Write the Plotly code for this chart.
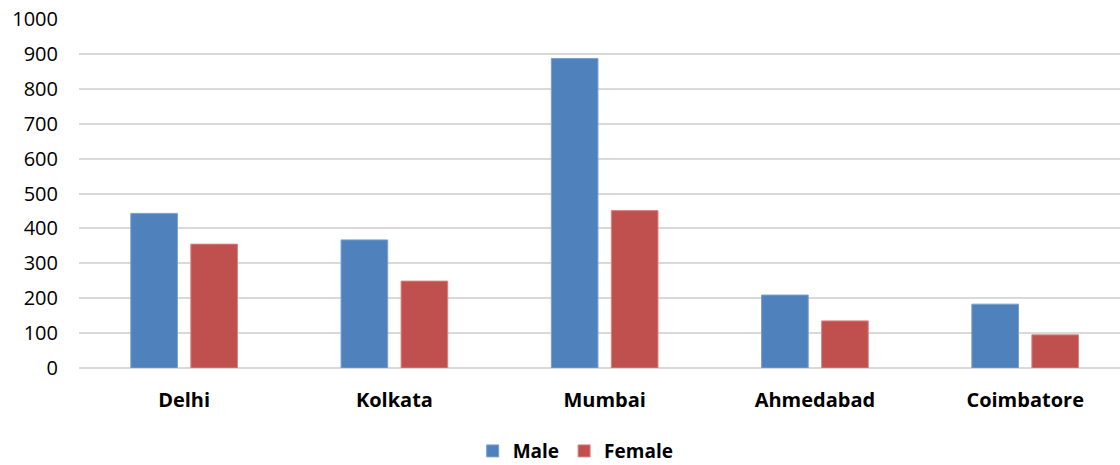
import plotly.graph_objects as go

cities = ["Delhi", "Kolkata", "Mumbai", "Ahmedabad", "Coimbatore"]
male = [443, 367, 887, 209, 183]
female = [355, 249, 451, 135, 95]
y_ticks = [0, 100, 200, 300, 400, 500, 600, 700, 800, 900, 1000]

fig = go.Figure()
fig.add_trace(go.Bar(name="Male", x=cities, y=male,
                     marker=dict(color="#4f81bd", line=dict(color="#7aa0d0", width=1))))
fig.add_trace(go.Bar(name="Female", x=cities, y=female,
                     marker=dict(color="#c0504d", line=dict(color="#d88482", width=1))))

fig.update_layout(
    width=1120, height=465,
    margin=dict(l=79, r=0, t=19, b=97, autoexpand=False),
    paper_bgcolor="white", plot_bgcolor="white",
    barmode="group", bargap=0.429, bargroupgap=0.223,
    font=dict(family="Open Sans", color="#000000"),
    showlegend=True,
    legend=dict(orientation="h", x=0.514, xanchor="center", xref="container",
                y=0.03, yanchor="middle", yref="container",
                font=dict(size=19, family="Open Sans", weight="bold"),
                itemwidth=30, traceorder="normal"),
)
fig.update_xaxes(
    automargin=False,
    range=[-0.5, 4.451],
    showgrid=False, showline=False, zeroline=False,
    ticks="outside", ticklen=14, tickcolor="rgba(0,0,0,0)",
    tickfont=dict(size=20, family="Open Sans", weight="bold", color="#000000"),
)
fig.update_yaxes(
    automargin=False,
    range=[0, 1000], tickvals=y_ticks,
    showgrid=True, gridcolor="#d9d9d9", gridwidth=2,
    zeroline=True, zerolinecolor="#d9d9d9", zerolinewidth=2,
    showline=False,
    ticks="outside", ticklen=16, tickcolor="rgba(0,0,0,0)",
    tickfont=dict(size=20, family="Open Sans", color="#000000"),
)

fig.write_html("out.html")
